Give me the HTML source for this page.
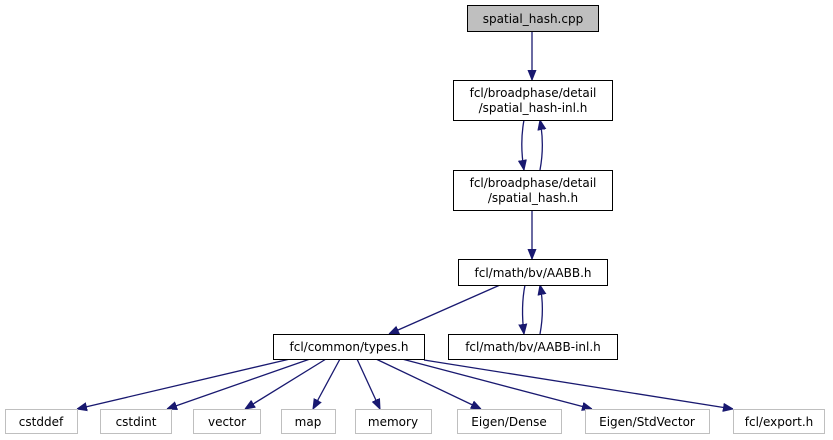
<!DOCTYPE html>
<html><head><meta charset="utf-8"><style>
html,body{margin:0;padding:0;background:#fff;}
svg{display:block;}
text{font-family:"DejaVu Sans","Liberation Sans",sans-serif;font-size:12px;fill:#000;}
</style></head><body>
<svg width="833" height="440" viewBox="0 0 833 440" xmlns="http://www.w3.org/2000/svg">
<defs>
<marker id="a" viewBox="0 0 10 10" refX="10" refY="5" markerWidth="10" markerHeight="10" markerUnits="userSpaceOnUse" orient="auto">
<path d="M0,1 L10,5 L0,9 Z" fill="#191970" stroke="#191970"/>
</marker>
</defs>
<g fill="none" stroke="#191970" stroke-width="1.3">
<line x1="532" y1="31" x2="532" y2="80" marker-end="url(#a)"/>
<path d="M524,120 C521,136 521,152 524,170" marker-end="url(#a)"/>
<path d="M540,170 C543,154 543,136 540,120" marker-end="url(#a)"/>
<line x1="532" y1="210" x2="532" y2="259" marker-end="url(#a)"/>
<line x1="500" y1="285" x2="389" y2="334" marker-end="url(#a)"/>
<path d="M525,285 C522,300 522,318 524,334" marker-end="url(#a)"/>
<path d="M540,334 C543,318 543,300 540,285" marker-end="url(#a)"/>
<line x1="290" y1="359" x2="77" y2="409" marker-end="url(#a)"/>
<line x1="310" y1="359" x2="167" y2="409" marker-end="url(#a)"/>
<line x1="326" y1="359" x2="245" y2="409" marker-end="url(#a)"/>
<line x1="340" y1="359" x2="313" y2="409" marker-end="url(#a)"/>
<line x1="357" y1="359" x2="380" y2="409" marker-end="url(#a)"/>
<line x1="376" y1="359" x2="481" y2="409" marker-end="url(#a)"/>
<line x1="402" y1="359" x2="592" y2="409" marker-end="url(#a)"/>
<line x1="424" y1="360" x2="733" y2="409" marker-end="url(#a)"/>
</g>
<g stroke-width="1">
<rect x="467.5" y="5.5" width="131" height="26" fill="#bfbfbf" stroke="#000"/>
<rect x="453.5" y="80.5" width="159" height="40" fill="#fff" stroke="#000"/>
<rect x="453.5" y="170.5" width="159" height="40" fill="#fff" stroke="#000"/>
<rect x="458.5" y="259.5" width="149" height="26" fill="#fff" stroke="#000"/>
<rect x="273.5" y="334.5" width="151" height="25" fill="#fff" stroke="#000"/>
<rect x="448.5" y="334.5" width="169" height="25" fill="#fff" stroke="#000"/>
<g fill="#fff" stroke="#bfbfbf">
<rect x="5.5" y="409.5" width="72" height="24"/>
<rect x="100.5" y="409.5" width="71" height="24"/>
<rect x="193.5" y="409.5" width="67" height="24"/>
<rect x="281.5" y="409.5" width="54" height="24"/>
<rect x="355.5" y="409.5" width="76" height="24"/>
<rect x="457.5" y="409.5" width="104" height="24"/>
<rect x="585.5" y="409.5" width="124" height="24"/>
<rect x="733.5" y="409.5" width="91" height="24"/>
</g>
</g>
<g text-anchor="middle">
<text x="533" y="23">spatial_hash.cpp</text>
<text x="533" y="97">fcl/broadphase/detail</text>
<text x="533" y="112">/spatial_hash-inl.h</text>
<text x="533" y="187">fcl/broadphase/detail</text>
<text x="533" y="202">/spatial_hash.h</text>
<text x="533" y="277">fcl/math/bv/AABB.h</text>
<text x="349" y="351">fcl/common/types.h</text>
<text x="533" y="351">fcl/math/bv/AABB-inl.h</text>
<text x="41" y="426">cstddef</text>
<text x="136" y="426">cstdint</text>
<text x="227" y="426">vector</text>
<text x="308" y="426">map</text>
<text x="393" y="426">memory</text>
<text x="509" y="426">Eigen/Dense</text>
<text x="647" y="426">Eigen/StdVector</text>
<text x="779" y="426">fcl/export.h</text>
</g>
</svg>
</body></html>
